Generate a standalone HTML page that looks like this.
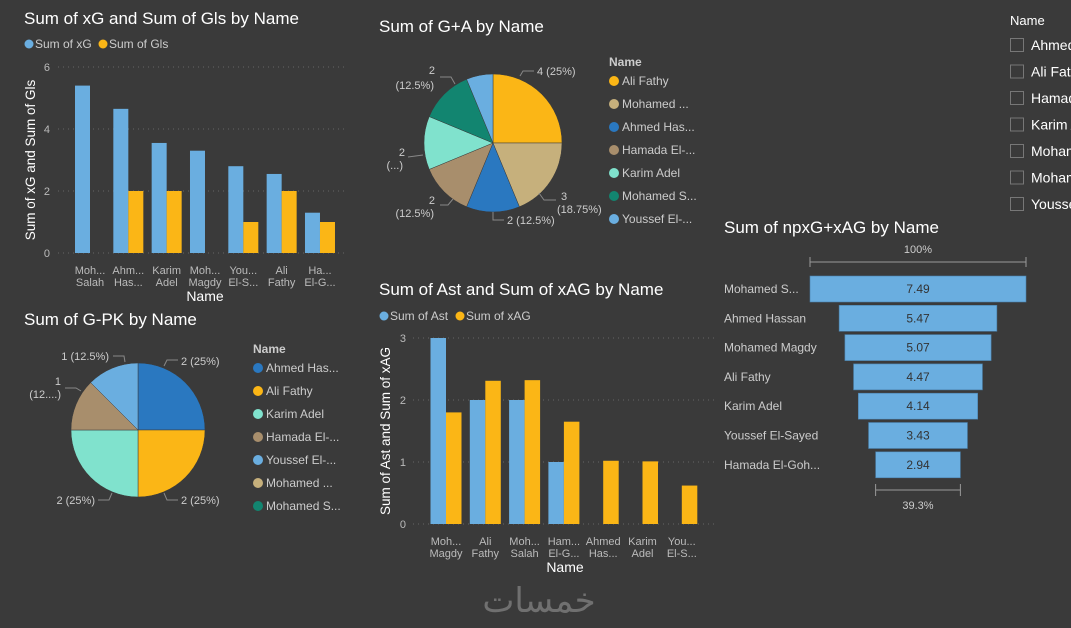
<!DOCTYPE html>
<html><head><meta charset="utf-8">
<style>
html,body{margin:0;padding:0;background:#3a3a3a;}
svg{display:block;font-family:"Liberation Sans",sans-serif;}
</style></head>
<body>
<svg id="s" width="1071" height="628" viewBox="0 0 1071 628">
<rect x="0" y="0" width="1071" height="628" fill="#3a3a3a"/>
<text x="539" y="612" text-anchor="middle" font-family="'DejaVu Sans',sans-serif" font-size="34" fill="#707070">خمسات</text>
</svg>
<script>
// ---- Chart 1 data
const c1Names = [["Moh...","Salah"],["Ahm...","Has..."],["Karim","Adel"],["Moh...","Magdy"],["You...","El-S..."],["Ali","Fathy"],["Ha...","El-G..."]];
const c1xG = [5.4, 4.65, 3.55, 3.3, 2.8, 2.55, 1.3];
const c1Gls = [0, 2, 2, 0, 1, 2, 1];
const c1Ticks = [0, 2, 4, 6];
// ---- Chart 2 data
const c2Names = [["Moh...","Magdy"],["Ali","Fathy"],["Moh...","Salah"],["Ham...","El-G..."],["Ahmed","Has..."],["Karim","Adel"],["You...","El-S..."]];
const c2Ast = [3, 2, 2, 1, 0, 0, 0];
const c2xAG = [1.8, 2.31, 2.32, 1.65, 1.02, 1.01, 0.62];
const c2Ticks = [0, 1, 2, 3];
// ---- Pie G+A
const p1Names = ["Ali Fathy","Mohamed ...","Ahmed Has...","Hamada El-...","Karim Adel","Mohamed S...","Youssef El-..."];
const p1Values = [4, 3, 2, 2, 2, 2, 1];
// ---- Pie G-PK
const p2Names = ["Ahmed Has...","Ali Fathy","Karim Adel","Hamada El-...","Youssef El-...","Mohamed ...","Mohamed S..."];
const p2Values = [2, 2, 2, 1, 1, 0, 0];
// ---- Funnel
const fNames = ["Mohamed S...","Ahmed Hassan","Mohamed Magdy","Ali Fathy","Karim Adel","Youssef El-Sayed","Hamada El-Goh..."];
const fValues = [7.49, 5.47, 5.07, 4.47, 4.14, 3.43, 2.94];
// ---- Slicer
const sNames = ["Ahmed Hassan","Ali Fathy","Hamada El-Gohary","Karim Adel","Mohamed Magdy","Mohamed Salah","Youssef El-Sayed"];

const BLUE="#6aaee0", ORANGE="#fbb616";
const colorMap={"Ali Fathy":"#fbb616","Mohamed ...":"#c6b07c","Ahmed Has...":"#2a78c0","Hamada El-...":"#a88e6c","Karim Adel":"#80e2cd","Mohamed S...":"#128570","Youssef El-...":"#6aaee0"};
const svg=document.getElementById('s');
const NS="http://www.w3.org/2000/svg";
function mk(tag,attrs,txt){const e=document.createElementNS(NS,tag);for(const k in attrs)e.setAttribute(k,attrs[k]);if(txt!==undefined)e.textContent=txt;svg.appendChild(e);return e;}

function barChart(o){
  let e;
  e=mk('text',{x:o.tx,y:o.ty,fill:'#fff','font-size':17},o.title);
  
  
  o.legend.forEach((l,i)=>{
    e=mk('circle',{cx:l.x,cy:o.ly-4,r:4.5,fill:l.c});
    
    
    e=mk('text',{x:l.x+6,y:o.ly,fill:'#ccc','font-size':12},l.t);
    
    
  });
  const y=v=>o.y0-(v-0)*(o.y0-o.yTop)/o.maxV;
  o.ticks.forEach(t=>{
    e=mk('line',{x1:o.gx0,x2:o.gx1,y1:y(t),y2:y(t),stroke:'#666','stroke-dasharray':'1 4'});
    
    
    e=mk('text',{x:o.tickX,y:y(t)+4,fill:'#bbb','font-size':11,'text-anchor':'end'},String(t));
    
    
  });
  const xc=i=>o.c0+i*o.step;
  o.names.forEach((n,i)=>{
    const a=o.s1[i], b=o.s2[i];
    if(a>0){e=mk('rect',{x:xc(i)-o.bw,y:y(a),width:o.bw,height:o.y0-y(a),fill:BLUE});
      
      }
    if(b>0){e=mk('rect',{x:xc(i),y:y(b),width:o.bw,height:o.y0-y(b),fill:ORANGE});
      
      }
    e=mk('text',{x:xc(i),y:o.xl1,fill:'#bbb','font-size':11,'text-anchor':'middle'},n[0]);
    
    
    e=mk('text',{x:xc(i),y:o.xl1+12,fill:'#bbb','font-size':11,'text-anchor':'middle'},n[1]);
    
    
  });
  e=mk('text',{x:o.xtX,y:o.xl1+27,fill:'#fff','font-size':14,'text-anchor':'middle'},'Name');
  
  
  const cy=(o.y0+o.yTop)/2;
  e=mk('text',{x:o.ytX,y:cy,fill:'#fff','font-size':13.5,'text-anchor':'middle',transform:`rotate(-90 ${o.ytX} ${cy})`},o.ytitle);
  
  
}

barChart({key:'xg-gls',title:'Sum of xG and Sum of Gls by Name',tx:24,ty:24,ly:48,
  legend:[{x:29,c:BLUE,t:'Sum of xG'},{x:103,c:ORANGE,t:'Sum of Gls'}],
  names:c1Names,s1:c1xG,s2:c1Gls,s1n:'xg',s2n:'gls',ticks:c1Ticks,maxV:6,y0:253,yTop:67,
  gx0:58,gx1:348,tickX:50,c0:90,step:38.33,bw:15,xl1:274,xtX:205,ytX:35,ytitle:'Sum of xG and Sum of Gls'});

barChart({key:'ast-xag',title:'Sum of Ast and Sum of xAG by Name',tx:379,ty:295,ly:320,
  legend:[{x:384,c:BLUE,t:'Sum of Ast'},{x:460,c:ORANGE,t:'Sum of xAG'}],
  names:c2Names,s1:c2Ast,s2:c2xAG,s1n:'ast',s2n:'xag',ticks:c2Ticks,maxV:3,y0:524,yTop:338,
  gx0:413,gx1:715,tickX:406,c0:446,step:39.3,bw:15.5,xl1:545,xtX:565,ytX:390,ytitle:'Sum of Ast and Sum of xAG'});

function pie(o){
  let e;
  e=mk('text',{x:o.tx,y:o.ty,fill:'#fff','font-size':17},o.title);
  
  
  const tot=o.values.reduce((a,b)=>a+b,0);
  let ang=0;
  o.values.forEach((v,i)=>{
    if(v<=0)return;
    const a0=ang, a1=ang+v/tot*2*Math.PI; ang=a1;
    const p=a=>[o.cx+o.r*Math.sin(a),o.cy-o.r*Math.cos(a)];
    const [x0,y0]=p(a0),[x1,y1]=p(a1);
    const large=(a1-a0)>Math.PI?1:0;
    e=mk('path',{d:`M${o.cx},${o.cy} L${x0},${y0} A${o.r},${o.r} 0 ${large} 1 ${x1},${y1} Z`,fill:colorMap[o.names[i]]||'#888',stroke:'#3a3a3a','stroke-width':0.5});
    
    
  });
  e=mk('text',{x:o.lx,y:o.ly,fill:'#ccc','font-size':12,'font-weight':'bold'},'Name');
  
  
  o.names.forEach((n,i)=>{
    const yy=o.ly+19+i*23;
    e=mk('circle',{cx:o.lx+5,cy:yy-4,r:5,fill:colorMap[n]});
    
    
    e=mk('text',{x:o.lx+13,y:yy,fill:'#ccc','font-size':12},n);
    
    
  });
  o.labels.forEach(l=>{
    e=mk('polyline',{points:l.line,fill:'none',stroke:'#888','stroke-width':1});
    
    
    l.t.forEach((t,j)=>{
      e=mk('text',{x:l.x,y:l.y+j*13,fill:'#ccc','font-size':11,'text-anchor':l.a||'start'},t);
      
      
    });
  });
}

pie({key:'ga-pie',title:'Sum of G+A by Name',tx:379,ty:32,cx:493,cy:143,r:69,names:p1Names,values:p1Values,lx:609,ly:66,
  labels:[
    {x:537,y:75,t:['4 (25%)'],line:'520,76 523,71 534,71'},
    {x:561,y:200,t:['3'],line:'539,193 544,200 556,200'},
    {x:557,y:213,t:['(18.75%)'],a:'start',line:''},
    {x:507,y:224,t:['2 (12.5%)'],line:'493,212 493,220 504,220'},
    {x:435,y:204,t:['2'],a:'end',line:'453,199 448,205 440,205'},
    {x:434,y:217,t:['(12.5%)'],a:'end',line:''},
    {x:405,y:156,t:['2'],a:'end',line:'423,155 408,157'},
    {x:403,y:169,t:['(...)'],a:'end',line:''},
    {x:435,y:74,t:['2'],a:'end',line:'455,84 451,77 440,77'},
    {x:434,y:89,t:['(12.5%)'],a:'end',line:''}
  ]});

pie({key:'gpk-pie',title:'Sum of G-PK by Name',tx:24,ty:325,cx:138,cy:430,r:67,names:p2Names,values:p2Values,lx:253,ly:353,
  labels:[
    {x:181,y:365,t:['2 (25%)'],line:'164,366 167,360 178,360'},
    {x:181,y:504,t:['2 (25%)'],line:'164,493 167,500 178,500'},
    {x:95,y:504,t:['2 (25%)'],a:'end',line:'112,493 109,500 98,500'},
    {x:109,y:360,t:['1 (12.5%)'],a:'end',line:'125,362 124,356 113,356'},
    {x:61,y:385,t:['1'],a:'end',line:'81,391 76,388 65,388'},
    {x:61,y:398,t:['(12....)'],a:'end',line:''}
  ]});

// Funnel
(function(){
  let e;
  e=mk('text',{x:724,y:233,fill:'#fff','font-size':17},'Sum of npxG+xAG by Name');
  
  
  const cx=918, maxW=216, maxV=Math.max(...fValues);
  const w=v=>v/maxV*maxW;
  e=mk('path',{d:`M${cx-w(fValues[0])/2},257 v10 M${cx-w(fValues[0])/2},262 H${cx+w(fValues[0])/2} M${cx+w(fValues[0])/2},257 v10`,stroke:'#999',fill:'none'});
  
  
  e=mk('text',{x:cx,y:253,fill:'#ccc','font-size':11,'text-anchor':'middle'},'100%');
  
  
  fValues.forEach((v,i)=>{
    const yy=276+i*29.3;
    e=mk('rect',{x:cx-w(v)/2,y:yy,width:w(v),height:26,fill:BLUE,stroke:'#4a7fa8','stroke-width':0.6});
    
    
    e=mk('text',{x:cx,y:yy+17,fill:'#333','font-size':12,'text-anchor':'middle'},v.toFixed(2));
    
    
    e=mk('text',{x:724,y:yy+17,fill:'#ccc','font-size':12},fNames[i]);
    
    
  });
  const last=fValues[fValues.length-1];
  e=mk('path',{d:`M${cx-w(last)/2},484 v12 M${cx-w(last)/2},490 H${cx+w(last)/2} M${cx+w(last)/2},484 v12`,stroke:'#999',fill:'none'});
  
  
  e=mk('text',{x:cx,y:509,fill:'#ccc','font-size':11,'text-anchor':'middle'},(last/fValues[0]*100).toFixed(1)+'%');
  
  
})();

// Slicer
(function(){
  let e;
  e=mk('text',{x:1010,y:25,fill:'#fff','font-size':13},'Name');
  
  
  sNames.forEach((n,i)=>{
    const yy=38+i*26.5;
    e=mk('rect',{x:1010.5,y:yy+0.5,width:13,height:13,fill:'none',stroke:'#777'});
    
    
    e=mk('text',{x:1031,y:yy+12,fill:'#fff','font-size':14},n);
    
    
  });
})();
</script>
</body></html>
